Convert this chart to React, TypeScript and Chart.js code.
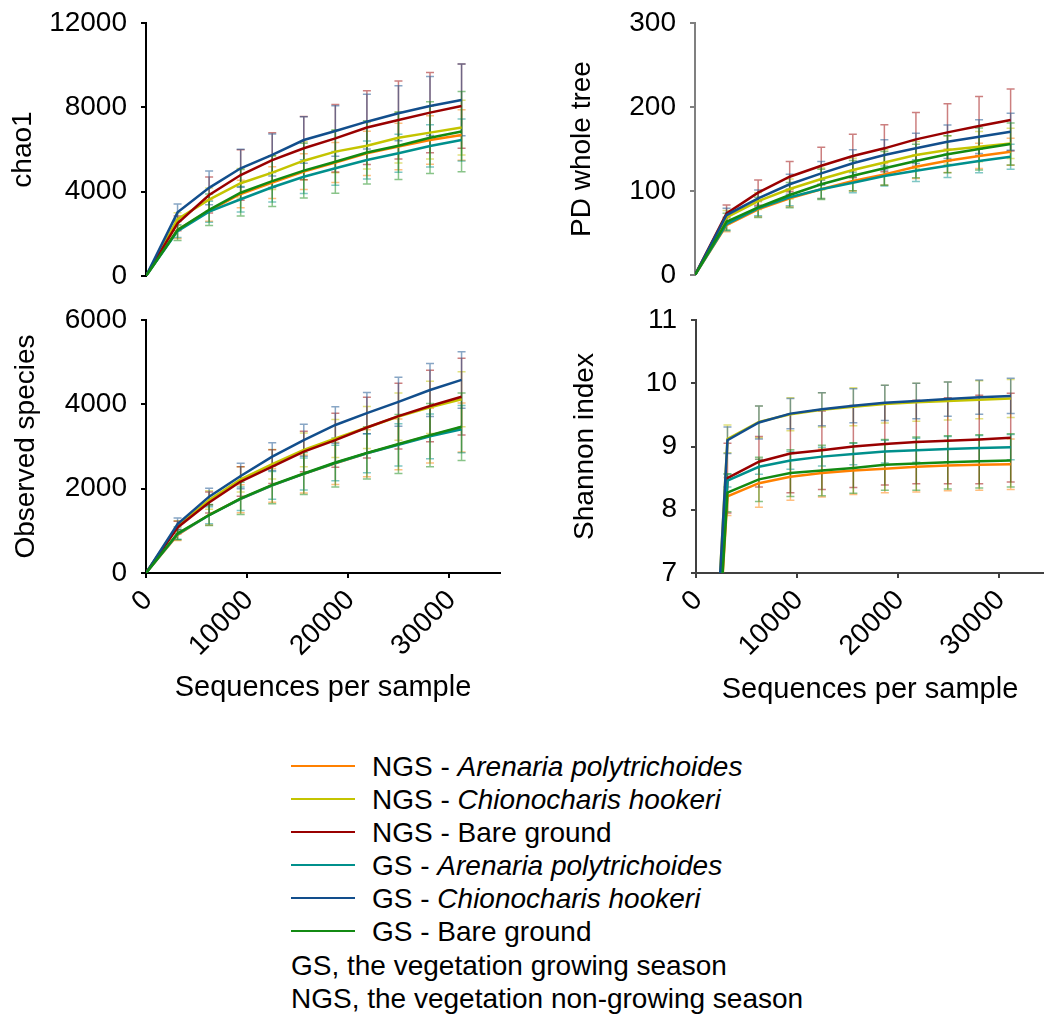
import React, { useEffect, useRef } from 'react';
import { Chart, registerables } from 'chart.js';

Chart.register(...registerables);

const FONT = '"Liberation Sans", Arial, Helvetica, sans-serif';

// Sequencing depths (x values)
const depths = [0, 3120, 6240, 9360, 12480, 15600, 18720, 21840, 24960, 28080, 31200];
const xTickValues = [0, 10000, 20000, 30000];

// Series
const seriesPrefix = ['NGS - ', 'NGS - ', 'NGS - ', 'GS - ', 'GS - ', 'GS - '];
const seriesSpecies = ['Arenaria polytrichoides', 'Chionocharis hookeri', 'Bare ground', 'Arenaria polytrichoides', 'Chionocharis hookeri', 'Bare ground'];
const seriesItalic = [true, true, false, true, true, false];
const seriesColors = ['#FF8000', '#C4C400', '#990000', '#00908C', '#124E8C', '#138A13'];

// chao1 (values at depths[1..10])
const chaoNgsAren = [2180, 3100, 3890, 4430, 4950, 5380, 5820, 6140, 6450, 6690];
const chaoNgsChion = [2700, 3620, 4400, 4900, 5470, 5900, 6180, 6560, 6800, 7040];
const chaoNgsBare = [2500, 3840, 4790, 5500, 6060, 6530, 7040, 7400, 7750, 8060];
const chaoGsAren = [2130, 3050, 3640, 4210, 4710, 5110, 5500, 5820, 6170, 6450];
const chaoGsChion = [3020, 4180, 5110, 5740, 6450, 6880, 7320, 7720, 8060, 8350];
const chaoGsBare = [2180, 3140, 3950, 4500, 5000, 5420, 5860, 6180, 6560, 6850];
const chaoErrNgsAren = [400, 500, 650, 750, 850, 950, 1050, 1100, 1150, 1200];
const chaoErrNgsChion = [300, 550, 700, 800, 900, 1000, 1100, 1200, 1250, 1300];
const chaoErrNgsBare = [350, 850, 1200, 1300, 1500, 1600, 1750, 1850, 1900, 2000];
const chaoErrGsAren = [300, 500, 600, 700, 800, 800, 900, 900, 1000, 1000];
const chaoErrGsChion = [400, 800, 900, 1000, 1100, 1200, 1300, 1300, 1400, 1700];
const chaoErrGsBare = [500, 750, 1100, 1200, 1300, 1500, 1500, 1600, 1700, 1900];

// PD whole tree
const pdNgsAren = [59.5, 78.2, 91.3, 102, 111.9, 119.8, 128.9, 136, 141.7, 146.8];
const pdNgsChion = [68.7, 88, 102.4, 114.3, 125, 134, 142.9, 148.8, 152.8, 156.7];
const pdNgsBare = [73.4, 98, 117, 130, 141.7, 150.8, 161.5, 169.8, 177.4, 184.5];
const pdGsAren = [60.7, 79.4, 92.5, 102, 109.9, 117.9, 124.2, 130, 135.7, 140.8];
const pdGsChion = [71.4, 91.3, 108, 121, 133, 142.9, 150.8, 158.7, 164.7, 170.6];
const pdGsBare = [63.5, 80.6, 95.2, 108, 118.2, 127, 135.7, 143.7, 150, 156];
const pdErrNgsAren = [8, 9, 10, 11, 12, 13, 14, 14, 15, 16];
const pdErrNgsChion = [8, 10, 12, 13, 14, 15, 16, 17, 18, 18];
const pdErrNgsBare = [10, 15, 18, 22, 26, 28, 32, 34, 35, 37];
const pdErrGsAren = [8, 9, 10, 11, 12, 12, 13, 14, 14, 15];
const pdErrGsChion = [8, 10, 12, 14, 16, 18, 18, 20, 20, 22];
const pdErrGsBare = [10, 12, 15, 18, 18, 20, 20, 22, 25, 25];

// Observed species
const obsNgsAren = [900, 1380, 1760, 2080, 2350, 2600, 2840, 3050, 3260, 3450];
const obsNgsChion = [1110, 1730, 2220, 2580, 2920, 3190, 3450, 3710, 3930, 4120];
const obsNgsBare = [1080, 1670, 2170, 2520, 2880, 3150, 3450, 3720, 3960, 4180];
const obsGsAren = [920, 1370, 1760, 2080, 2350, 2610, 2840, 3040, 3240, 3410];
const obsGsChion = [1162, 1810, 2300, 2760, 3150, 3510, 3790, 4060, 4340, 4580];
const obsGsBare = [940, 1375, 1770, 2090, 2360, 2620, 2850, 3060, 3270, 3470];
const obsErrNgsAren = [130, 240, 330, 400, 450, 500, 560, 600, 650, 580];
const obsErrNgsChion = [130, 220, 300, 350, 400, 450, 500, 560, 620, 650];
const obsErrNgsBare = [150, 250, 350, 400, 480, 640, 720, 780, 850, 910];
const obsErrGsAren = [120, 200, 280, 330, 380, 420, 460, 500, 530, 560];
const obsErrGsChion = [140, 200, 300, 330, 380, 430, 490, 580, 630, 670];
const obsErrGsBare = [150, 250, 380, 450, 500, 580, 620, 700, 750, 800];

// Shannon index
const shNgsAren = [8.21, 8.42, 8.52, 8.58, 8.62, 8.65, 8.68, 8.7, 8.71, 8.72];
const shNgsChion = [9.12, 9.39, 9.51, 9.58, 9.63, 9.67, 9.7, 9.72, 9.74, 9.76];
const shNgsBare = [8.5, 8.76, 8.89, 8.94, 9.0, 9.04, 9.07, 9.09, 9.11, 9.14];
const shGsAren = [8.46, 8.68, 8.78, 8.84, 8.88, 8.92, 8.94, 8.96, 8.975, 8.99];
const shGsChion = [9.1, 9.38, 9.52, 9.59, 9.645, 9.69, 9.72, 9.75, 9.78, 9.8];
const shGsBare = [8.27, 8.48, 8.58, 8.62, 8.66, 8.71, 8.73, 8.75, 8.765, 8.78];
const shErrNgsAren = [0.3, 0.38, 0.37, 0.38, 0.38, 0.38, 0.4, 0.4, 0.4, 0.4];
const shErrNgsChion = [0.22, 0.25, 0.26, 0.27, 0.3, 0.3, 0.3, 0.3, 0.3, 0.3];
const shErrNgsBare = [0.55, 0.4, 0.62, 0.62, 0.65, 0.65, 0.66, 0.68, 0.7, 0.7];
const shErrGsAren = [0.1, 0.12, 0.14, 0.15, 0.17, 0.18, 0.19, 0.2, 0.2, 0.2];
const shErrGsChion = [0.21, 0.26, 0.24, 0.26, 0.27, 0.28, 0.28, 0.27, 0.27, 0.28];
const shErrGsBare = [0.3, 0.35, 0.37, 0.4, 0.4, 0.4, 0.42, 0.42, 0.42, 0.42];

// Y axis ranges [min, max, step]
const chaoTicks = [0, 12000, 4000];
const pdTicks = [0, 300, 100];
const obsTicks = [0, 6000, 2000];
const shTicks = [7, 11, 1];

type Panel = {
  key: string;
  left: number; top: number; width: number; height: number;
  padTop: number; padBottom: number; padRight: number;
  yAxisWidth: number; yTitlePad: number; yTitle: string;
  axisColor: string;
  yRange: number[];
  xMax: number;
  showX: boolean;
  xTitlePad: number;
  values: number[][];
  errors: number[][];
  origin: number;
};

const panels: Panel[] = [
  {
    key: 'chao', left: 0, top: 0, width: 520, height: 300,
    padTop: 23, padBottom: 24, padRight: 20, yAxisWidth: 146, yTitlePad: 6.5, yTitle: 'chao1',
    axisColor: '#000000', yRange: chaoTicks, xMax: 35000, showX: false, xTitlePad: 0,
    values: [chaoNgsAren, chaoNgsChion, chaoNgsBare, chaoGsAren, chaoGsChion, chaoGsBare],
    errors: [chaoErrNgsAren, chaoErrNgsChion, chaoErrNgsBare, chaoErrGsAren, chaoErrGsChion, chaoErrGsBare],
    origin: 0,
  },
  {
    key: 'pd', left: 520, top: 0, width: 524, height: 300,
    padTop: 23, padBottom: 25, padRight: 0, yAxisWidth: 175, yTitlePad: 45, yTitle: 'PD whole tree',
    axisColor: '#808080', yRange: pdTicks, xMax: 34500, showX: false, xTitlePad: 0,
    values: [pdNgsAren, pdNgsChion, pdNgsBare, pdGsAren, pdGsChion, pdGsBare],
    errors: [pdErrNgsAren, pdErrNgsChion, pdErrNgsBare, pdErrGsAren, pdErrGsChion, pdErrGsBare],
    origin: 0,
  },
  {
    key: 'obs', left: 0, top: 300, width: 520, height: 420,
    padTop: 20, padBottom: 0, padRight: 20, yAxisWidth: 146, yTitlePad: 9, yTitle: 'Observed species',
    axisColor: '#000000', yRange: obsTicks, xMax: 35000, showX: true, xTitlePad: 15,
    values: [obsNgsAren, obsNgsChion, obsNgsBare, obsGsAren, obsGsChion, obsGsBare],
    errors: [obsErrNgsAren, obsErrNgsChion, obsErrNgsBare, obsErrGsAren, obsErrGsChion, obsErrGsBare],
    origin: 0,
  },
  {
    key: 'sh', left: 520, top: 300, width: 524, height: 420,
    padTop: 20, padBottom: 0, padRight: 0, yAxisWidth: 176, yTitlePad: 48, yTitle: 'Shannon index',
    axisColor: '#404040', yRange: shTicks, xMax: 34500, showX: true, xTitlePad: 13,
    values: [shNgsAren, shNgsChion, shNgsBare, shGsAren, shGsChion, shGsBare],
    errors: [shErrNgsAren, shErrNgsChion, shErrNgsBare, shErrGsAren, shErrGsChion, shErrGsBare],
    origin: 0,
  },
];

const errorBarPlugin = {
  id: 'errorBars',
  beforeDatasetsDraw(chart: any) {
    const ctx = chart.ctx;
    const xs = chart.scales.x;
    const ys = chart.scales.y;
    chart.data.datasets.forEach((ds: any) => {
      const errs: number[] = ds.errs;
      if (!errs) return;
      ctx.save();
      ctx.strokeStyle = ds.borderColor;
      ctx.globalAlpha = 0.5;
      ctx.lineWidth = 1.5;
      ds.data.forEach((pt: any, j: number) => {
        const e = errs[j];
        if (!e) return;
        const x = xs.getPixelForValue(pt.x);
        const yt = ys.getPixelForValue(pt.y + e);
        const yb = ys.getPixelForValue(pt.y - e);
        ctx.beginPath();
        ctx.moveTo(x, yt);
        ctx.lineTo(x, yb);
        ctx.moveTo(x - 4, yt);
        ctx.lineTo(x + 4, yt);
        ctx.moveTo(x - 4, yb);
        ctx.lineTo(x + 4, yb);
        ctx.stroke();
      });
      ctx.restore();
    });
  },
};

function PanelChart({ p }: { p: Panel }) {
  const ref = useRef<HTMLCanvasElement | null>(null);
  useEffect(() => {
    if (!ref.current) return;
    const datasets = p.values.map((vals, i) => ({
      label: seriesPrefix[i] + seriesSpecies[i],
      data: [p.origin, ...vals].map((v, j) => ({ x: depths[j], y: v })),
      errs: [0, ...p.errors[i]],
      borderColor: seriesColors[i],
      backgroundColor: seriesColors[i],
      borderWidth: 2.5,
      pointRadius: 0,
      tension: 0,
      fill: false,
      order: -i,
    }));
    const tickFont = { family: FONT, size: 28 };
    const chart = new Chart(ref.current, {
      type: 'line',
      data: { datasets } as any,
      plugins: [errorBarPlugin],
      options: {
        responsive: true,
        maintainAspectRatio: false,
        animation: false,
        events: [],
        layout: { padding: { left: 0, top: p.padTop, right: p.padRight, bottom: p.padBottom } },
        plugins: { legend: { display: false }, tooltip: { enabled: false } },
        scales: {
          x: {
            type: 'linear',
            min: 0,
            max: p.xMax,
            display: p.showX,
            afterBuildTicks: (s: any) => {
              s.ticks = xTickValues.map((v) => ({ value: v }));
            },
            ticks: {
              autoSkip: false,
              minRotation: 45,
              maxRotation: 45,
              padding: 6,
              labelOffset: 2,
              color: '#000',
              font: tickFont,
              callback: (v: any) => String(v),
            },
            grid: { drawOnChartArea: false, drawTicks: true, tickLength: 5, color: p.axisColor, lineWidth: 2 },
            border: { display: true, color: p.axisColor, width: 2 },
            title: {
              display: true,
              text: 'Sequences per sample',
              color: '#000',
              font: { family: FONT, size: 29 },
              padding: { top: 0, bottom: p.xTitlePad },
            },
            afterFit: (s: any) => {
              s.height = p.showX ? 147 : 0;
              s.paddingLeft = 0;
              s.paddingRight = 0;
            },
          },
          y: {
            min: p.yRange[0],
            max: p.yRange[1],
            ticks: {
              stepSize: p.yRange[2],
              autoSkip: false,
              padding: 14,
              color: '#000',
              font: tickFont,
              callback: (v: any) => String(v),
            },
            grid: { drawOnChartArea: false, drawTicks: true, tickLength: 5, color: p.axisColor, lineWidth: 2 },
            border: { display: true, color: p.axisColor, width: 2 },
            title: {
              display: true,
              text: p.yTitle,
              color: '#000',
              font: { family: FONT, size: 28 },
              padding: { top: p.yTitlePad, bottom: 0 },
            },
            afterFit: (s: any) => {
              s.width = p.yAxisWidth;
              s.paddingTop = 0;
              s.paddingBottom = 0;
            },
          },
        },
      } as any,
    });
    return () => chart.destroy();
  }, [p]);
  return (
    <div style={{ position: 'absolute', left: p.left, top: p.top, width: p.width, height: p.height }}>
      <canvas ref={ref} />
    </div>
  );
}

export default function App() {
  const rowH = 33.1;
  return (
    <div style={{ position: 'absolute', left: 0, top: 0, width: 1044, height: 1018, overflow: 'hidden', background: '#fff' }}>
      {panels.map((p) => (
        <PanelChart key={p.key} p={p} />
      ))}
      <div style={{ position: 'absolute', left: 291, top: 750, font: `28px ${FONT}`, color: '#000', lineHeight: `${rowH}px` }}>
        {seriesColors.map((c, i) => (
          <div key={i} style={{ position: 'relative', height: rowH, whiteSpace: 'nowrap', paddingLeft: 81 }}>
            <span style={{ position: 'absolute', left: 0, top: 15, width: 64, height: 2, background: c }} />
            <span>
              {seriesPrefix[i]}
              {seriesItalic[i] ? <i>{seriesSpecies[i]}</i> : seriesSpecies[i]}
            </span>
          </div>
        ))}
        <div style={{ height: rowH, whiteSpace: 'nowrap' }}>GS, the vegetation growing season</div>
        <div style={{ height: rowH, whiteSpace: 'nowrap' }}>NGS, the vegetation non-growing season</div>
      </div>
    </div>
  );
}
